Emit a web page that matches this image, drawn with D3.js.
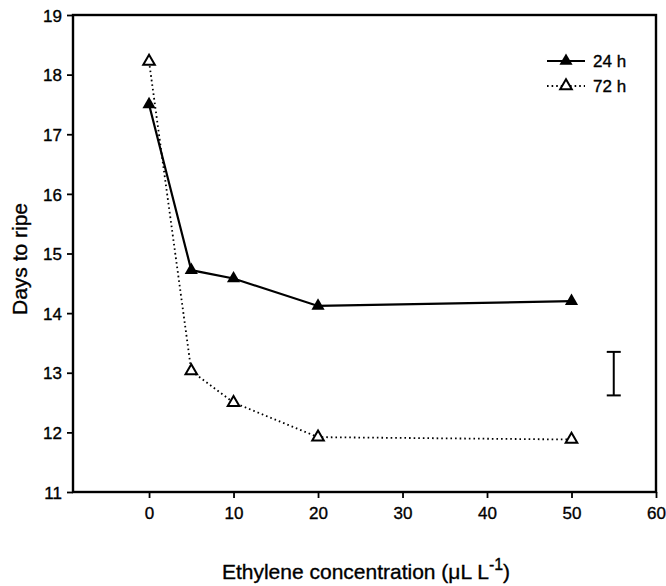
<!DOCTYPE html>
<html>
<head>
<meta charset="utf-8">
<script src="https://cdn.jsdelivr.net/npm/d3@7"></script>
<style>
  body { margin: 0; background: #fff; }
  text { font-family: "Liberation Sans", Arial, sans-serif; fill: #000; stroke: #000; stroke-width: 0.35px; }
</style>
</head>
<body>
<svg id="chart" width="666" height="586"></svg>
<script>
// data
var concentrations = [0, 5, 10, 20, 50];
var days24h = [17.5, 14.72, 14.58, 14.12, 14.2];
var days72h = [18.22, 13.03, 12.5, 11.92, 11.88];
var xTicks = [0, 10, 20, 30, 40, 50, 60];
var yTicks = [11, 12, 13, 14, 15, 16, 17, 18, 19];
var errorBar = { x: 55, low: 12.62, high: 13.35 };

var svg = d3.select('#chart');
var margin = { left: 73, top: 15, right: 10, bottom: 94 };
var width = 666 - margin.left - margin.right;
var height = 586 - margin.top - margin.bottom;

var x = d3.scaleLinear().domain([-9, 60]).range([0, width]);
var y = d3.scaleLinear().domain([11, 19]).range([height, 0]);

var g = svg.append('g')
  .attr('transform', 'translate(' + margin.left + ',' + margin.top + ')');

// frame
g.append('rect')
  .attr('width', width).attr('height', height)
  .attr('fill', 'none').attr('stroke', '#000').attr('stroke-width', 2.4);

var xAxis = g.append('g')
  .attr('transform', 'translate(0,' + height + ')')
  .call(d3.axisBottom(x).tickValues(xTicks).tickSizeOuter(0).tickSize(6).tickPadding(9));
var yAxis = g.append('g')
  .call(d3.axisLeft(y).tickValues(yTicks).tickSizeOuter(0).tickSize(6).tickPadding(5));

[xAxis, yAxis].forEach(function(a) {
  a.select('.domain').remove();
  a.selectAll('line').attr('stroke', '#000').attr('stroke-width', 1.8);
  a.selectAll('text').style('font-size', '17px').style('font-family', '"Liberation Sans", Arial, sans-serif');
});
yAxis.selectAll('text').attr('dy', '0.36em');

var line = d3.line()
  .x(function(d) { return x(d[0]); })
  .y(function(d) { return y(d[1]); });

var s24 = concentrations.map(function(c, i) { return [c, days24h[i]]; });
var s72 = concentrations.map(function(c, i) { return [c, days72h[i]]; });

g.append('path').datum(s72).attr('d', line)
  .attr('fill', 'none').attr('stroke', '#000').attr('stroke-width', 1.8)
  .attr('stroke-dasharray', '1.6,3');
g.append('path').datum(s24).attr('d', line)
  .attr('fill', 'none').attr('stroke', '#000').attr('stroke-width', 2.2);

var tri = d3.symbol().type(d3.symbolTriangle).size(75);
var triOpen = d3.symbol().type(d3.symbolTriangle).size(58);

g.selectAll('.m24').data(s24).enter().append('path')
  .attr('d', tri)
  .attr('transform', function(d) { return 'translate(' + x(d[0]) + ',' + y(d[1]) + ')'; })
  .attr('fill', '#000');
g.selectAll('.m72').data(s72).enter().append('path')
  .attr('d', triOpen)
  .attr('transform', function(d) { return 'translate(' + x(d[0]) + ',' + y(d[1]) + ')'; })
  .attr('fill', '#fff').attr('stroke', '#000').attr('stroke-width', 2);

// error bar
var eb = g.append('g').attr('stroke', '#000').attr('stroke-width', 2);
eb.append('line').attr('x1', x(errorBar.x)).attr('x2', x(errorBar.x))
  .attr('y1', y(errorBar.low)).attr('y2', y(errorBar.high));
[errorBar.low, errorBar.high].forEach(function(v) {
  eb.append('line').attr('x1', x(errorBar.x) - 7).attr('x2', x(errorBar.x) + 7)
    .attr('y1', y(v)).attr('y2', y(v));
});

// legend
var legend = svg.append('g').attr('transform', 'translate(547,0)');
legend.append('line').attr('x1', 0).attr('x2', 38).attr('y1', 61).attr('y2', 61)
  .attr('stroke', '#000').attr('stroke-width', 2.2);
legend.append('path').attr('d', tri).attr('transform', 'translate(19,61)');
legend.append('text').attr('x', 46).attr('y', 67).style('font-size', '17px').text('24 h');
legend.append('line').attr('x1', 0).attr('x2', 38).attr('y1', 86).attr('y2', 86)
  .attr('stroke', '#000').attr('stroke-width', 1.8).attr('stroke-dasharray', '1.6,3');
legend.append('path').attr('d', triOpen).attr('transform', 'translate(19,86)')
  .attr('fill', '#fff').attr('stroke', '#000').attr('stroke-width', 2);
legend.append('text').attr('x', 46).attr('y', 92).style('font-size', '17px').text('72 h');

// axis titles
svg.append('text')
  .attr('transform', 'translate(27,259) rotate(-90)')
  .attr('text-anchor', 'middle')
  .style('font-size', '21px')
  .text('Days to ripe');

var xt = svg.append('text')
  .attr('x', 366).attr('y', 579)
  .attr('text-anchor', 'middle')
  .style('font-size', '21px');
xt.append('tspan').text('Ethylene concentration (μL L');
xt.append('tspan').attr('dy', -9).style('font-size', '16px').text('-1');
xt.append('tspan').attr('dy', 9).text(')');
</script>
</body>
</html>
